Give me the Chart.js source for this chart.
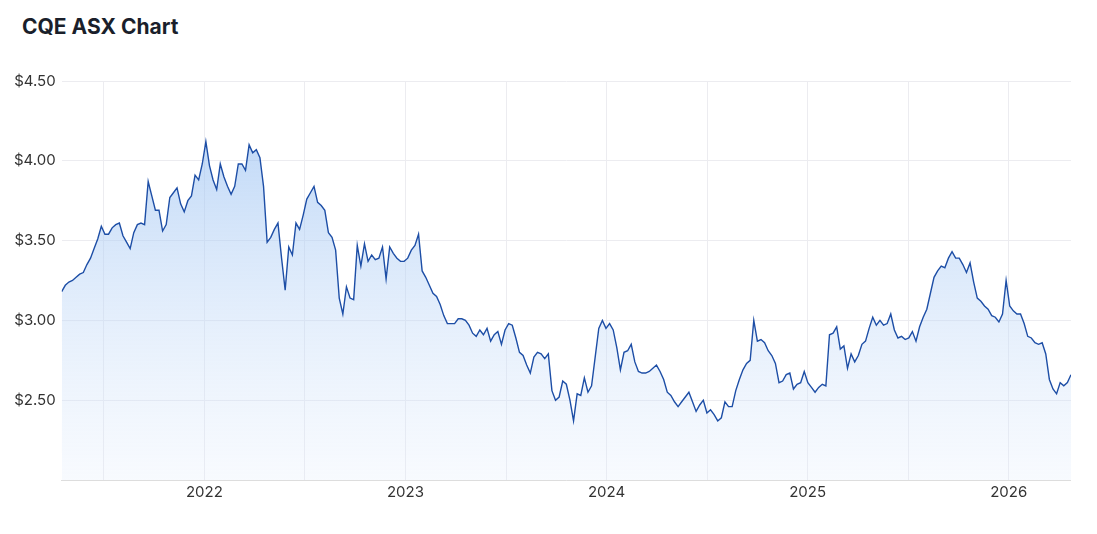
<!DOCTYPE html>
<html>
<head>
<meta charset="utf-8">
<script src="https://cdn.jsdelivr.net/npm/chart.js@4/dist/chart.umd.min.js"></script>
<style>
  body { margin: 0; background: #fff; font-family: Inter, "Noto Sans", sans-serif; }
  h1 { position: absolute; left: 22px; top: 14px; margin: 0; font-size: 21px; font-weight: 700; color: #1a1f2b; }
  #wrap { position: absolute; left: 0; top: 66px; width: 1071px; height: 438px; }
</style>
</head>
<body>
<h1>CQE ASX Chart</h1>
<div id="wrap"><canvas id="chart"></canvas></div>
<script>
// roughly weekly closes, Apr 2021 to Apr 2026
const startYear = 2021.29;
const endYear = 2026.31;
const prices = [
  3.18,3.22,3.24,3.25,3.27,3.29,3.30,3.35,3.39,3.45,3.51,3.59,3.54,3.54,3.58,3.60,3.61,3.53,3.49,3.45,
  3.55,3.60,3.61,3.60,3.87,3.78,3.69,
  3.69,3.56,3.60,3.77,3.80,3.83,3.73,3.68,3.75,3.78,3.91,3.88,3.98,4.12,3.97,3.88,3.82,3.98,3.90,3.84,
  3.79,3.84,3.98,3.98,3.94,4.10,4.05,4.07,4.02,3.84,3.49,3.52,3.57,3.61,3.39,3.19,3.46,3.41,3.61,3.57,
  3.66,3.76,3.80,3.84,3.74,3.72,3.69,3.55,3.52,3.44,3.14,3.04,3.21,3.14,3.13,3.47,3.34,3.48,3.37,3.41,
  3.38,3.39,3.46,3.26,3.46,3.42,3.39,3.37,3.37,3.39,3.44,3.47,3.54,3.31,3.27,3.22,3.17,3.15,3.10,3.03,
  2.98,2.98,2.98,3.01,3.01,3.00,2.97,2.92,2.90,2.94,2.91,2.95,2.87,2.91,2.93,2.85,2.94,2.98,2.97,2.89,
  2.80,2.78,2.72,2.67,2.77,2.80,2.79,2.76,2.79,2.56,2.50,2.52,2.62,2.60,2.50,2.37,2.54,2.53,2.64,2.55,
  2.59,2.77,2.95,3.00,2.95,2.98,2.94,2.83,2.69,2.80,2.81,2.85,2.74,2.68,2.67,2.67,2.68,2.70,2.72,2.68,
  2.63,2.55,2.53,2.49,2.46,2.49,2.52,2.55,2.49,2.43,2.47,2.50,2.42,2.44,2.41,2.37,2.39,2.49,2.46,2.46,
  2.56,2.63,2.69,2.73,2.75,3.00,2.87,2.88,2.86,2.81,2.78,2.73,2.61,2.62,2.66,2.67,2.57,
  2.60,2.61,2.68,2.61,2.58,2.55,2.58,2.60,2.59,2.91,2.92,2.96,2.82,2.84,2.70,2.79,2.74,2.78,2.85,2.87,
  2.95,3.02,2.97,3.00,2.97,2.98,3.04,2.94,2.89,2.90,2.88,2.89,2.93,2.87,2.96,3.02,3.07,3.17,3.27,3.31,
  3.34,3.33,3.39,3.43,3.39,3.39,3.35,3.30,3.36,3.24,3.14,3.12,3.09,3.07,3.03,3.02,2.99,3.04,3.25,3.09,
  3.06,3.04,3.04,2.98,2.90,2.89,2.86,2.85,2.86,2.79,2.63,2.57,2.54,2.61,2.59,2.61,2.66
];
const yTicks = [2.5, 3.0, 3.5, 4.0, 4.5];
const xTickYears = [2022, 2023, 2024, 2025, 2026];

const points = prices.map((p, i) => ({
  x: startYear + i * (endYear - startYear) / (prices.length - 1),
  y: p
}));

const ctx = document.getElementById('chart').getContext('2d');
const chart = new Chart(ctx, {
  type: 'line',
  data: {
    datasets: [{
      data: points,
      borderColor: '#1d4ea6',
      borderWidth: 1.4,
      pointRadius: 0,
      tension: 0,
      fill: 'start',
      backgroundColor: (c) => {
        const area = c.chart.chartArea;
        if (!area) return 'rgba(150,190,240,0.4)';
        const g = c.chart.ctx.createLinearGradient(0, area.top, 0, area.bottom);
        g.addColorStop(0, 'rgba(140,185,240,0.65)');
        g.addColorStop(1, 'rgba(225,236,252,0.25)');
        return g;
      }
    }]
  },
  options: {
    responsive: true,
    maintainAspectRatio: false,
    animation: false,
    layout: { padding: { left: 8, top: 10 } },
    plugins: { legend: { display: false }, tooltip: { enabled: false } },
    scales: {
      x: {
        type: 'linear',
        min: startYear,
        max: endYear,
        afterBuildTicks: (axis) => {
          const t = [];
          for (const y of xTickYears) { t.push({ value: y - 0.5 }); t.push({ value: y }); }
          axis.ticks = t.filter(v => v.value >= startYear && v.value <= endYear);
        },
        ticks: {
          autoSkip: false,
          maxRotation: 0,
          color: '#333',
          font: { size: 15, family: 'Inter' },
          callback: (v) => Number.isInteger(v) ? String(v) : ''
        },
        grid: { color: '#ececf0', drawTicks: false },
        border: { color: '#ddd' }
      },
      y: {
        min: 2.0,
        max: 4.5,
        afterBuildTicks: (axis) => { axis.ticks = [{ value: 2.0 }].concat(yTicks.map(v => ({ value: v }))); },
        ticks: {
          color: '#333',
          padding: 6,
          font: { size: 15, family: 'Inter' },
          callback: (v) => v < 2.25 ? '' : '$' + v.toFixed(2)
        },
        grid: { color: '#ececf0', drawTicks: false },
        border: { display: false }
      }
    }
  }
});
</script>
</body>
</html>
